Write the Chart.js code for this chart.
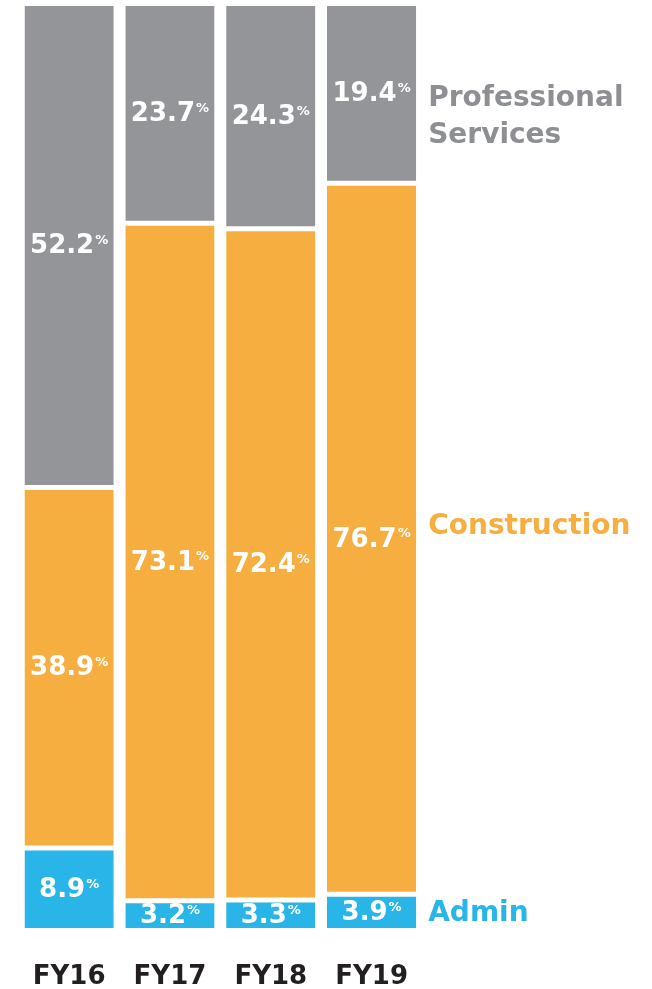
<!DOCTYPE html>
<html>
<head>
<meta charset="utf-8">
<script src="https://cdn.jsdelivr.net/npm/chart.js@4/dist/chart.umd.min.js"></script>
<style>
  html, body { margin: 0; padding: 0; background: #fff; }
  #wrap { width: 652px; height: 989px; }
</style>
</head>
<body>
<div id="wrap"><canvas id="mix-chart" width="652" height="989"></canvas></div>
<script>
// values (share of total, %)
var years = ['FY16', 'FY17', 'FY18', 'FY19'];
var admin = [8.9, 3.2, 3.3, 3.9];
var construction = [38.9, 73.1, 72.4, 76.7];
var professional = [52.2, 23.7, 24.3, 19.4];

var seriesNames = [['Admin'], ['Construction'], ['Professional', 'Services']];
var colours = ['#29b5e8', '#f7ae41', '#939598'];
var textColours = ['#29b5e8', '#f7ae41', '#8e8f93'];

var FONT = "'DejaVu Sans', sans-serif";

// white numbers with a small raised % sign, plus the names at the right
var labelPlugin = {
    id: 'segLabels',
    afterDatasetsDraw: function(chart) {
        var ctx = chart.ctx;
        ctx.save();
        chart.data.datasets.forEach(function(ds, i) {
            var meta = chart.getDatasetMeta(i);
            meta.data.forEach(function(bar, j) {
                var txt = ds.data[j].toFixed(1);
                var cy = (bar.y + bar.base) / 2;
                ctx.font = 'bold 26px ' + FONT;
                var w1 = ctx.measureText(txt).width;
                ctx.font = 'bold 13px ' + FONT;
                var w2 = ctx.measureText('%').width;
                var x0 = bar.x - (w1 + w2 + 1) / 2;
                ctx.fillStyle = '#fff';
                ctx.textBaseline = 'middle';
                ctx.textAlign = 'left';
                ctx.font = 'bold 26px ' + FONT;
                ctx.fillText(txt, x0, cy + 1);
                ctx.font = 'bold 13px ' + FONT;
                ctx.fillText('%', x0 + w1 + 1, cy - 5);
            });

            // series name next to the last bar
            var last = meta.data[meta.data.length - 1];
            var cyl = (last.y + last.base) / 2;
            var lines = seriesNames[i];
            ctx.font = 'bold 28px ' + FONT;
            ctx.fillStyle = textColours[i];
            ctx.textAlign = 'left';
            ctx.textBaseline = 'middle';
            var lx = last.x + last.width / 2 + 12;
            if (lines.length === 1) {
                ctx.fillText(lines[0], lx, cyl - (i === 1 ? 12 : -1));
            } else {
                ctx.fillText(lines[0], lx, cyl + 5);
                ctx.fillText(lines[1], lx, cyl + 42);
            }
        });
        ctx.restore();
    }
};

var ctx = document.getElementById('mix-chart').getContext('2d');
var mixChart = new Chart(ctx, {
    type: 'bar',
    data: {
        labels: years,
        datasets: [admin, construction, professional].map(function(vals, i) {
            return {
                label: seriesNames[i].join(' '),
                data: vals,
                backgroundColor: colours[i],
                borderColor: '#ffffff',
                borderWidth: { top: 2.5, bottom: 2.5, left: 0, right: 0 },
                borderSkipped: false,
                barPercentage: 0.885,
                categoryPercentage: 1
            };
        })
    },
    options: {
        responsive: false,
        animation: false,
        layout: {
            autoPadding: false,
            padding: { left: 14, right: 230, top: 3.5, bottom: 0 }
        },
        plugins: {
            legend: { display: false },
            tooltip: { enabled: false }
        },
        scales: {
            x: {
                stacked: true,
                grid: { display: false, drawTicks: false },
                border: { display: false },
                ticks: {
                    color: '#231f20',
                    padding: 31,
                    font: { family: FONT, size: 26, weight: 'bold' }
                },
                afterFit: function(scale) { scale.height = 58.5; }
            },
            y: {
                stacked: true,
                min: 0,
                max: 100,
                display: false
            }
        }
    },
    plugins: [labelPlugin]
});
</script>
</body>
</html>
